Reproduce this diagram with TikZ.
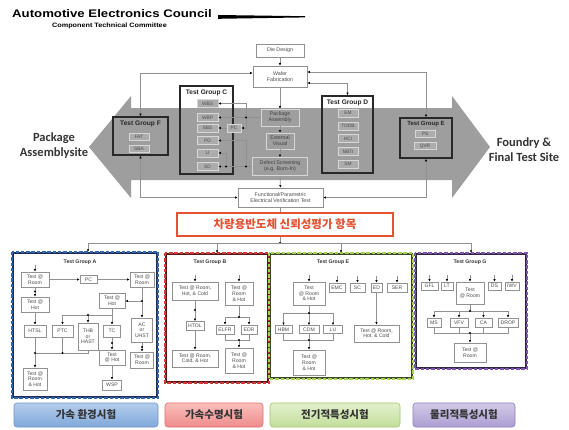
\documentclass[tikz,border=0pt]{standalone}
\usepackage{fontspec}
\usepackage{graphicx}
\setmainfont{Liberation Sans}
\newfontfamily\krfont{Noto Sans CJK KR}
\newfontfamily\calfont{Carlito}
\usetikzlibrary{arrows.meta,calc}
\definecolor{band}{RGB}{158,158,158}
\definecolor{lnc}{RGB}{145,145,145}
\definecolor{txc}{RGB}{75,75,75}
\definecolor{frm}{RGB}{40,40,40}
\definecolor{redt}{RGB}{228,82,52}
\definecolor{subf}{RGB}{172,172,172}
\definecolor{subd}{RGB}{215,215,215}
\definecolor{blueD}{RGB}{50,100,175}
\definecolor{blueK}{RGB}{30,45,90}
\definecolor{redD}{RGB}{215,55,55}
\definecolor{redK}{RGB}{90,25,25}
\definecolor{greenD}{RGB}{165,210,80}
\definecolor{greenK}{RGB}{60,70,40}
\definecolor{purpD}{RGB}{125,85,175}
\definecolor{purpK}{RGB}{50,35,75}
\newcommand\jdot[1]{\fill (#1) circle (1.1pt);}
\begin{document}
\begin{tikzpicture}[x=1pt,y=-1pt,
  wh/.style 2 args={minimum width=#1pt,minimum height=#2pt},
  pbox/.style={draw=lnc,line width=0.7pt,fill=white,inner sep=0pt,align=center,text=txc,font=\fontsize{5.3}{5.9}\selectfont},
  bbox/.style={pbox,fill=band,draw=subd,text=black!75},
  sbox/.style={draw=subd,line width=0.6pt,fill=subf,inner sep=0pt,align=center,text=black!70,font=\fontsize{4.8}{5.2}\selectfont},
  grp/.style={draw=frm,line width=1.5pt,inner sep=0pt},
  gt/.style={inner sep=0pt,font=\bfseries\fontsize{6.6}{6.6}\selectfont,text=black!85},
  lbox/.style={draw=lnc,line width=0.7pt,fill=white,inner sep=0pt,align=center,text=txc,font=\fontsize{5.1}{5.7}\selectfont},
  lt/.style={inner sep=0pt,font=\bfseries\fontsize{5.2}{5.2}\selectfont,text=black!80},
  cn/.style={draw=lnc,line width=0.7pt},
  ar/.style={cn,-{Latex[length=2.6pt,width=2.4pt,color=black]}},
  ar2/.style={cn,{Latex[length=2.6pt,width=2.4pt,color=black]}-{Latex[length=2.6pt,width=2.4pt,color=black]}},
  lab/.style={rounded corners=3pt,line width=0.6pt,inner sep=0pt,font=\krfont\bfseries\fontsize{10.5}{10.5}\selectfont,text=black!80},
  side/.style={inner sep=0pt,align=center,text=black!80,font=\calfont\bfseries\fontsize{12.5}{15}\selectfont},
]
\useasboundingbox (0,0) rectangle (569,429);
\fill[white] (0,0) rectangle (569,429);

% ---------- header ----------
\node[anchor=west,inner sep=0pt,font=\bfseries\fontsize{11}{11}\selectfont] (aec) at (12,14) {\scalebox{1.2}[1]{Automotive Electronics Council}};
\node[anchor=west,inner sep=0pt,font=\bfseries\fontsize{6.3}{6.3}\selectfont] (ctc) at (52,26) {\scalebox{1.15}[1]{Component Technical Committee}};
\fill (218,15) -- (305,16.2) -- (305,17.4) -- (218,18.8) -- cycle;

% ---------- grey double arrow ----------
\fill[band] (89,147) -- (131,96) -- (131,108) -- (452,108) -- (452,96) -- (490,147) -- (452,198) -- (452,180) -- (131,180) -- (131,198) -- cycle;
\node[side] (pas) at (54,146) {Package\\Assemblysite};
\node[side] (fts) at (524,150) {Foundry \&\\Final Test Site};

% ---------- process chain ----------
\node[pbox,wh={48}{13}] (die) at (280,50.5) {Die Design};
\node[pbox,wh={54}{21}] (waf) at (280,76.5) {Wafer\\Fabrication};
\node[bbox,wh={38}{17}] (pkg) at (280,117.5) {Package\\Assembly};
\node[bbox,wh={28}{16}] (ev) at (280,141) {External\\Visual};
\node[bbox,wh={55}{18}] (ds) at (280,166.5) {Defect Screening\\(e.g. Burn-In)};
\node[pbox,wh={85}{19}] (fun) at (280.5,197.5) {Functional/Parametric\\Electrical Verification Test};

% ---------- test groups (top) ----------
\node[grp,wh={53}{88}] (grpC) at (206.5,130) {};
\node[gt] (tC) at (206.5,93) {Test Group C};
\node[sbox,wh={21}{8}] (wbs) at (207.5,103.5) {WBS};
\node[sbox,wh={21}{8}] (wbp) at (207.5,117.5) {WBP};
\node[sbox,wh={21}{8}] (sbs) at (207.5,128) {SBS};
\node[sbox,wh={21}{8}] (pd) at (207.5,140.5) {PD};
\node[sbox,wh={21}{8}] (li) at (207.5,153) {LI};
\node[sbox,wh={21}{8}] (sd) at (207.5,166.5) {SD};
\node[sbox,wh={14}{8}] (pc) at (234,128) {PC};

\node[grp,wh={51}{77}] (grpD) at (347.5,134.5) {};
\node[gt] (tD) at (347.5,103) {Test Group D};
\node[sbox,wh={20}{8}] (em) at (348,113) {EM};
\node[sbox,wh={20}{8}] (tddb) at (348,126) {TDDB};
\node[sbox,wh={20}{8}] (hci) at (348,138.5) {HCI};
\node[sbox,wh={20}{8}] (nbti) at (348,151.5) {NBTI};
\node[sbox,wh={20}{8}] (sm) at (348,164) {SM};

\node[grp,wh={55}{38}] (grpF) at (140.5,136) {};
\node[gt] (tF) at (140.5,124) {Test Group F};
\node[sbox,wh={20}{7}] (fat) at (139,136.5) {FAT};
\node[sbox,wh={20}{7}] (sba) at (139,148.5) {SBA};

\node[grp,wh={52}{40}] (grpE) at (426,138) {};
\node[gt,font=\bfseries\fontsize{6}{6}\selectfont] (tE) at (426,124.5) {Test Group E};
\node[sbox,wh={20}{7}] (ps) at (425,133.5) {PS};
\node[sbox,wh={22}{7}] (qvr) at (425,146) {QVR};

% ---------- top connectors ----------
\draw[ar] (die) -- (waf);
\draw[ar] (waf) -- (pkg);
\draw[ar] (pkg) -- (ev);
\draw[ar] (ev) -- (ds);
\draw[ar] (ds) -- (fun);
\draw[ar2] ([yshift=3.5pt]waf.west) -| (grpF.north);
\draw[ar2] ([yshift=4.5pt]waf.east) -| (grpE.north);
\draw[ar2] ([yshift=-6.5pt]waf.east) -| (grpD.north);
\draw[ar2] (grpF.south) |- (fun.west);
\draw[ar2] (grpE.south) |- (fun.east);

\coordinate (jc1) at (246,117.5);
\coordinate (jc2) at (246,166.5);
\coordinate (jc3) at (226,166.5);
\draw[ar] (pkg.west) -- (wbp.east);
\draw[ar] (jc1) |- (wbs.east);
\draw[ar] (jc1) |- (pc.east);
\draw[ar] (pc.west) -- (sbs.east);
\draw[ar] (ds.west) -- (sd.east);
\draw[ar] (jc2) |- (pd.east);
\draw[ar] (jc3) |- (li.east);
\jdot{jc1}\jdot{jc2}\jdot{jc3}

% ---------- red title ----------
\node[draw=redt,line width=1.2pt,fill=white,wh={216}{23},inner sep=0pt,text=redt,font=\krfont\bfseries\fontsize{11.5}{11.5}\selectfont] (kt) at (285,224.5) {차량용반도체 신뢰성평가 항목};
\draw[cn] (fun.south) -- (fun.south |- kt.north);
\coordinate (hub) at (280,243);
\draw[cn] (hub |- kt.south) -- (hub);
\jdot{hub}

% ---------- lower group frames ----------
\node[draw=blueK,line width=2.2pt,wh={144}{144},inner sep=0pt] (gA) at (85,325) {};
\draw[blueD,line width=2.2pt,dash pattern=on 3.5pt off 1.8pt] (gA.north west) rectangle (gA.south east);
\node[draw=redK,line width=2.2pt,wh={102}{128},inner sep=0pt] (gB) at (217,318) {};
\draw[redD,line width=2.2pt,dash pattern=on 3.5pt off 1.8pt] (gB.north west) rectangle (gB.south east);
\node[draw=greenK,line width=2.2pt,wh={142}{124},inner sep=0pt] (gE) at (341,316) {};
\draw[greenD,line width=2.2pt,dash pattern=on 3.5pt off 1.8pt] (gE.north west) rectangle (gE.south east);
\node[draw=purpK,line width=2.2pt,wh={110}{114},inner sep=0pt] (gG) at (471,311) {};
\draw[purpD,line width=2.2pt,dash pattern=on 3.5pt off 1.8pt] (gG.north west) rectangle (gG.south east);

\draw[ar] (hub) -| ([xshift=3pt]gA.north);
\draw[ar] (hub) -| (gB.north);
\draw[ar] (hub) -| (gE.north);
\draw[ar] (hub) -| (gG.north);

% ---------- group A ----------
\node[lt] (tA) at (80,262) {Test Group A};
\node[lbox,wh={28}{15}] (aR1) at (35,279.5) {Test @\\Room};
\node[lbox,wh={17}{8}] (aPC) at (88.5,279.5) {PC};
\node[lbox,wh={24}{15}] (aR2) at (142,279.5) {Test @\\Room};
\node[lbox,wh={28}{15}] (aH1) at (35,304.5) {Test @\\Hot};
\node[lbox,wh={26}{15}] (aH2) at (112,301) {Test @\\Hot};
\node[lbox,wh={21}{24}] (aAC) at (142,330) {AC\\or\\UHST};
\node[lbox,wh={23}{16}] (aR3) at (142,360) {Test @\\Room};
\node[lbox,wh={22}{12}] (aHTSL) at (35,331) {HTSL};
\node[lbox,wh={21}{12}] (aPTC) at (62.5,331) {PTC};
\node[lbox,wh={20}{27}] (aTHB) at (88,336.5) {THB\\or\\HAST};
\node[lbox,wh={17}{12}] (aTC) at (112,331) {TC};
\node[lbox,wh={26}{15}] (aH3) at (112,357.5) {Test\\@ Hot};
\node[lbox,wh={24}{22}] (aRH) at (35,379) {Test @\\Room\\\& Hot};
\node[lbox,wh={19}{10}] (aWSP) at (112,385) {WSP};

\draw[ar] ([yshift=7pt]aR1.north) -- (aR1.north);
\draw[ar] (aR1) -- (aPC);
\draw[ar] (aPC) -- (aR2);
\draw[ar] (aR1) -- (aH1);
\draw[ar] (aH1) -- (aHTSL);
\coordinate (aj1) at (142,301);
\draw[ar] (aR2) -- (aAC);
\draw[ar] (aj1) -- (aH2.east);
\coordinate (aj2) at (112,315);
\draw[ar] (aH2) -- (aTC);
\draw[ar] (aj2) -| (aPTC);
\draw[ar] (aj2) -| (aTHB);
\coordinate (aj3) at (35,353);
\draw[cn] (aHTSL.south) |- (aTHB.south |- aj3) -- (aTHB.south);
\draw[cn] (aPTC.south) -- (aPTC.south |- aj3);
\draw[ar] (aj3) -- (aRH);
\draw[ar] (aTC) -- (aH3);
\draw[ar] (aH3) -- (aWSP);
\draw[ar] (aAC) -- (aR3);
\jdot{aj1}\jdot{aTHB.north |- aj2}\jdot{aPTC.south |- aj3}\jdot{aj3}
\jdot{35,291.5}\jdot{142,347}\jdot{112,343}

% ---------- group B ----------
\node[lt] (tB) at (210,262) {Test Group B};
\node[lbox,wh={46}{18}] (bT1) at (195,291) {Test @ Room,\\Hot, \& Cold};
\node[lbox,wh={28}{23}] (bT2) at (239,293.5) {Test @\\Room\\\& Hot};
\node[lbox,wh={18}{9}] (bHTOL) at (195,326) {HTOL};
\node[lbox,wh={46}{17}] (bT3) at (195,358.5) {Test @ Room,\\Cold, \& Hot};
\node[lbox,wh={18}{9}] (bELFR) at (225,329.5) {ELFR};
\node[lbox,wh={16}{9}] (bEDR) at (249,329.5) {EDR};
\node[lbox,wh={28}{25}] (bT4) at (239,360.5) {Test @\\Room\\\& Hot};

\draw[ar] ([yshift=7pt]bT1.north) -- (bT1.north);
\draw[ar] ([yshift=7pt]bT2.north) -- (bT2.north);
\draw[ar] (bT1) -- (bHTOL);
\draw[ar] (bHTOL) -- (bT3);
\coordinate (bj1) at (239,317);
\coordinate (bj2) at (239,340);
\draw[cn] (bT2) -- (bj1);
\draw[ar] (bj1) -| (bELFR);
\draw[ar] (bj1) -| (bEDR);
\draw[cn] (bELFR) |- (bj2);
\draw[cn] (bEDR) |- (bj2);
\draw[ar] (bj2) -- (bT4);
\jdot{bj1}\jdot{bj2}\jdot{195,310}

% ---------- group E ----------
\node[lt] (tE2) at (333,262) {Test Group E};
\node[lbox,wh={32}{23}] (eT1) at (309,293.5) {Test\\@ Room\\\& Hot};
\node[lbox,wh={16}{9}] (eEMC) at (337,287.5) {EMC};
\node[lbox,wh={15}{9}] (eSC) at (357.5,287.5) {SC};
\node[lbox,wh={11}{9}] (eED) at (376.5,287.5) {ED};
\node[lbox,wh={20}{9}] (eSER) at (397,287.5) {SER};
\node[lbox,wh={45}{17}] (eT2) at (376.5,333.5) {Test @ Room,\\Hot, \& Cold};
\node[lbox,wh={17}{8}] (eHBM) at (283.5,329.5) {HBM};
\node[lbox,wh={20}{8}] (eCDM) at (309,329.5) {CDM};
\node[lbox,wh={19}{8}] (eLU) at (333,329.5) {LU};
\node[lbox,wh={32}{25}] (eT3) at (309,362.5) {Test @\\Room\\\& Hot};

\foreach \n in {eT1,eEMC,eSC,eED,eSER}{\draw[ar] ([yshift=7pt]\n.north) -- (\n.north);}
\draw[ar] (eED) -- (eT2);
\coordinate (ej1) at (309,313);
\coordinate (ej2) at (309,340);
\draw[cn] (eT1) -- (ej1);
\draw[ar] (ej1) -| (eHBM);
\draw[ar] (ej1) -- (eCDM);
\draw[ar] (ej1) -| (eLU);
\draw[cn] (eHBM) |- (ej2);
\draw[cn] (eLU) |- (ej2);
\draw[cn] (eCDM) -- (ej2);
\draw[ar] (ej2) -- (eT3);
\jdot{ej1}\jdot{ej2}

% ---------- group G ----------
\node[lt] (tG) at (470,262) {Test Group G};
\node[lbox,wh={17}{8}] (gGFL) at (429.5,286) {GFL};
\node[lbox,wh={12}{8}] (gLT) at (447,286) {LT};
\node[lbox,wh={28}{22}] (gT1) at (470,293) {Test\\@ Room};
\node[lbox,wh={13}{8}] (gDS) at (494.5,286) {DS};
\node[lbox,wh={14}{8}] (gIWV) at (512,286) {IWV};
\node[lbox,wh={14}{9}] (gMS) at (434,322.5) {MS};
\node[lbox,wh={18}{9}] (gVFV) at (459,322.5) {VFV};
\node[lbox,wh={17}{9}] (gCA) at (483.5,322.5) {CA};
\node[lbox,wh={20}{9}] (gDROP) at (508,322.5) {DROP};
\node[lbox,wh={32}{19}] (gT2) at (470,352.5) {Test @\\Room};

\foreach \n in {gGFL,gLT,gT1,gDS,gIWV}{\draw[ar] ([yshift=7pt]\n.north) -- (\n.north);}
\coordinate (gj1) at (470,311);
\coordinate (gj2) at (470,333);
\draw[cn] (gT1) -- (gj1);
\draw[ar] (gj1) -| (gMS);
\draw[ar] (gj1) -| (gVFV);
\draw[ar] (gj1) -| (gCA);
\draw[ar] (gj1) -| (gDROP);
\draw[cn] (gMS) |- (gj2);
\draw[cn] (gDROP) |- (gj2);
\draw[cn] (gVFV) |- (gj2);
\draw[cn] (gCA) |- (gj2);
\draw[ar] (gj2) -- (gT2);
\jdot{gj1}\jdot{gj2}

% ---------- bottom labels ----------
\node[lab,draw={rgb,255:red,110;green,148;blue,200},top color={rgb,255:red,180;green,205;blue,236},bottom color={rgb,255:red,128;green,168;blue,218},wh={144}{24}] (lA) at (86,415) {가속 환경시험};
\node[lab,draw={rgb,255:red,220;green,110;blue,110},top color={rgb,255:red,250;green,190;blue,188},bottom color={rgb,255:red,238;green,140;blue,140},wh={98}{24}] (lB) at (214,415) {가속수명시험};
\node[lab,draw={rgb,255:red,160;green,200;blue,110},top color={rgb,255:red,226;green,240;blue,204},bottom color={rgb,255:red,194;green,222;blue,155},wh={130}{24}] (lE) at (335,415) {전기적특성시험};
\node[lab,draw={rgb,255:red,140;green,125;blue,190},top color={rgb,255:red,210;green,202;blue,232},bottom color={rgb,255:red,172;green,157;blue,210},wh={102}{24}] (lG) at (464,415) {물리적특성시험};
\end{tikzpicture}
\end{document}
